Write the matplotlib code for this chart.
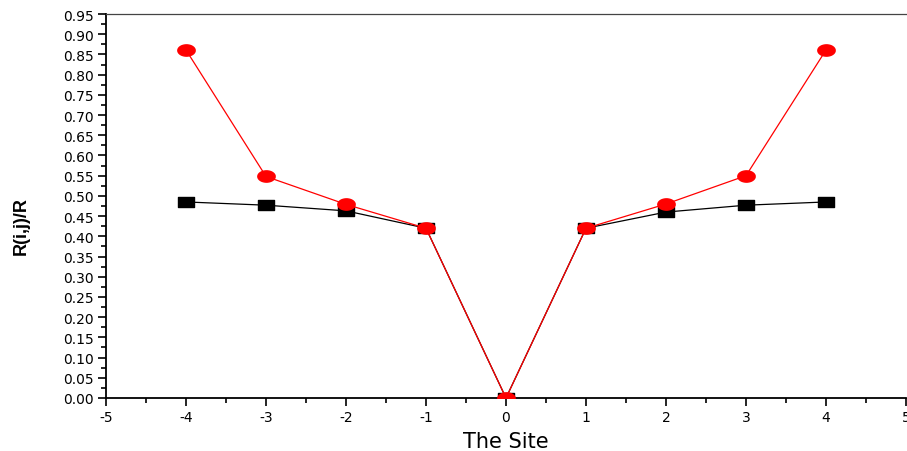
import numpy as np
import matplotlib
matplotlib.use('Agg')
import matplotlib.pyplot as plt
from matplotlib.path import Path
from matplotlib.ticker import MultipleLocator

plt.rcParams['font.family'] = ['DejaVu Sans']
plt.rcParams['axes.unicode_minus'] = False

site = [-4, -3, -2, -1, 0, 1, 2, 3, 4]
black_vals = [0.485, 0.477, 0.463, 0.420, 0.0, 0.420, 0.460, 0.477, 0.485]
red_vals = [0.861, 0.548, 0.479, 0.420, 0.0, 0.420, 0.480, 0.550, 0.861]

# stretched markers like the original (wider than tall)
t = np.linspace(0, 2 * np.pi, 40)
ellipse = Path(np.column_stack([np.cos(t), 0.65 * np.sin(t)]))
rect = Path([(-1, -0.65), (1, -0.65), (1, 0.65), (-1, 0.65), (-1, -0.65)],
            [Path.MOVETO, Path.LINETO, Path.LINETO, Path.LINETO, Path.CLOSEPOLY])

fig = plt.figure(figsize=(9.07, 4.52), dpi=100)
ax = fig.add_axes([106 / 907, 1 - 399 / 452, 800 / 907, 384 / 452])

ax.plot(site, black_vals, color='black', lw=0.9, marker=rect, ms=11,
        mec='black', mfc='black', zorder=3)
ax.plot(site, red_vals, color='red', lw=0.9, marker=ellipse, ms=12.5,
        mec='red', mfc='red', zorder=4)

ax.set_xlim(-5, 5)
ax.set_ylim(0, 0.95)
ax.xaxis.set_major_locator(MultipleLocator(1))
ax.xaxis.set_minor_locator(MultipleLocator(0.5))
ax.yaxis.set_major_locator(MultipleLocator(0.05))
ax.yaxis.set_minor_locator(MultipleLocator(0.025))
ax.yaxis.set_major_formatter(plt.FormatStrFormatter('%.2f'))

ax.tick_params(axis='both', which='major', direction='out', length=6, width=1.2,
               labelsize=10, pad=3)
ax.tick_params(axis='both', which='minor', direction='out', length=3.5, width=1.2)

ax.spines['left'].set_linewidth(1.3)
ax.spines['bottom'].set_linewidth(1.3)
ax.spines['right'].set_visible(False)
ax.spines['top'].set_color('#444444')
ax.spines['top'].set_linewidth(0.9)

ax.set_xlabel('The Site', fontsize=15, labelpad=5)
ax.set_ylabel('R(i,j)/R', fontsize=13, fontweight='bold', labelpad=14,
              family=['Liberation Sans', 'DejaVu Sans'])
ax.yaxis.set_label_coords(-0.095, 0.45)

fig.savefig('out.png', dpi=100)
